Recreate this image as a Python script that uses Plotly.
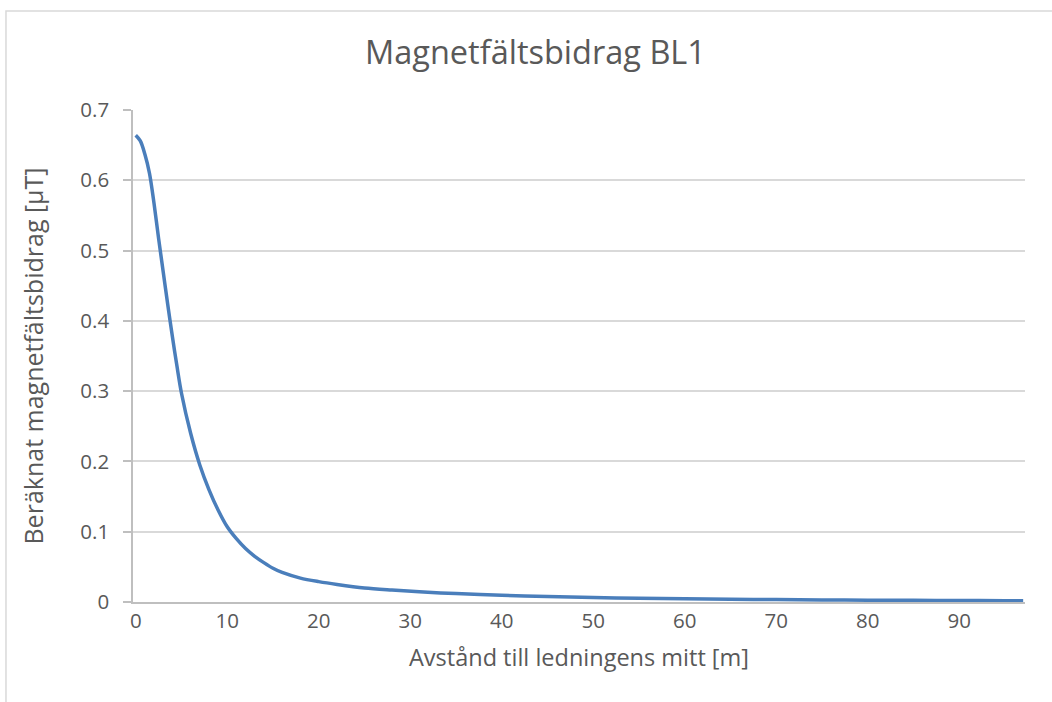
import plotly.graph_objects as go

# Distance from line centre [m]
distance_m = [0, 0.5, 1, 1.5, 2, 2.5, 3, 3.5, 4, 4.5, 5, 6, 7, 8, 9, 10, 11, 12, 13, 14,
              15, 16, 18, 20, 22, 25, 28, 31, 35, 40, 45, 50, 55, 60, 65, 70, 75, 80,
              85, 90, 95, 97]
# Calculated magnetic field contribution [µT]
field_uT = [0.664, 0.656, 0.637, 0.610, 0.567, 0.517, 0.470, 0.423, 0.378, 0.336, 0.297,
            0.240, 0.195, 0.160, 0.131, 0.107, 0.090, 0.076, 0.065, 0.056, 0.048, 0.042,
            0.034, 0.029, 0.025, 0.020, 0.017, 0.0145, 0.012, 0.0095, 0.0077, 0.0063,
            0.0053, 0.0045, 0.0039, 0.0034, 0.0030, 0.0026, 0.0024, 0.0021, 0.0019, 0.0018]

x_ticks = [0, 10, 20, 30, 40, 50, 60, 70, 80, 90]
y_ticks = [0, 0.1, 0.2, 0.3, 0.4, 0.5, 0.6, 0.7]
y_tick_text = ["0", "0.1", "0.2", "0.3", "0.4", "0.5", "0.6", "0.7"]

FONT = "Open Sans"
TXT = "#595959"

fig = go.Figure()
fig.add_trace(go.Scatter(
    x=distance_m, y=field_uT, mode="lines",
    line=dict(color="#4a7ebb", width=3.5, shape="spline", smoothing=0.9),
    showlegend=False, hoverinfo="x+y",
))

fig.update_layout(
    width=1052, height=702,
    margin=dict(l=133, r=27, t=110, b=100),
    paper_bgcolor="white", plot_bgcolor="white",
    font=dict(family=FONT, color=TXT, size=20),
    title=dict(text="Magnetfältsbidrag BL1", x=0.509, xanchor="center",
               y=0.925, yanchor="middle",
               font=dict(family=FONT, size=32.5, color=TXT)),
    xaxis=dict(
        range=[-0.3, 97.2], tickmode="array", tickvals=x_ticks,
        showgrid=False, zeroline=False, showline=True, linecolor="#bfbfbf",
        linewidth=1.5, ticks="", tickfont=dict(size=20.5, color=TXT),
        title=dict(text="Avstånd till ledningens mitt [m]",
                   font=dict(size=23.5, color=TXT), standoff=16),
    ),
    yaxis=dict(
        range=[0, 0.7], tickmode="array", tickvals=y_ticks, ticktext=y_tick_text,
        showgrid=True, gridcolor="#d9d9d9", gridwidth=1.5, zeroline=False,
        showline=True, linecolor="#bfbfbf", linewidth=1.5,
        ticks="outside", ticklen=8, tickcolor="#bfbfbf", tickwidth=1.5,
        ticklabelstandoff=10,
        tickfont=dict(size=20.5, color=TXT),
        title=dict(text="Beräknat magnetfältsbidrag [µT]",
                   font=dict(size=25, color=TXT), standoff=30),
    ),
    shapes=[dict(type="rect", xref="paper", yref="paper",
                 x0=-0.1424, x1=1.1885, y0=-0.22, y1=1.2012,
                 line=dict(color="#d9d9d9", width=1.5), layer="below")],
)

fig.write_html("out.html", config={"displayModeBar": False},
               post_script="document.body.style.margin='0';")
